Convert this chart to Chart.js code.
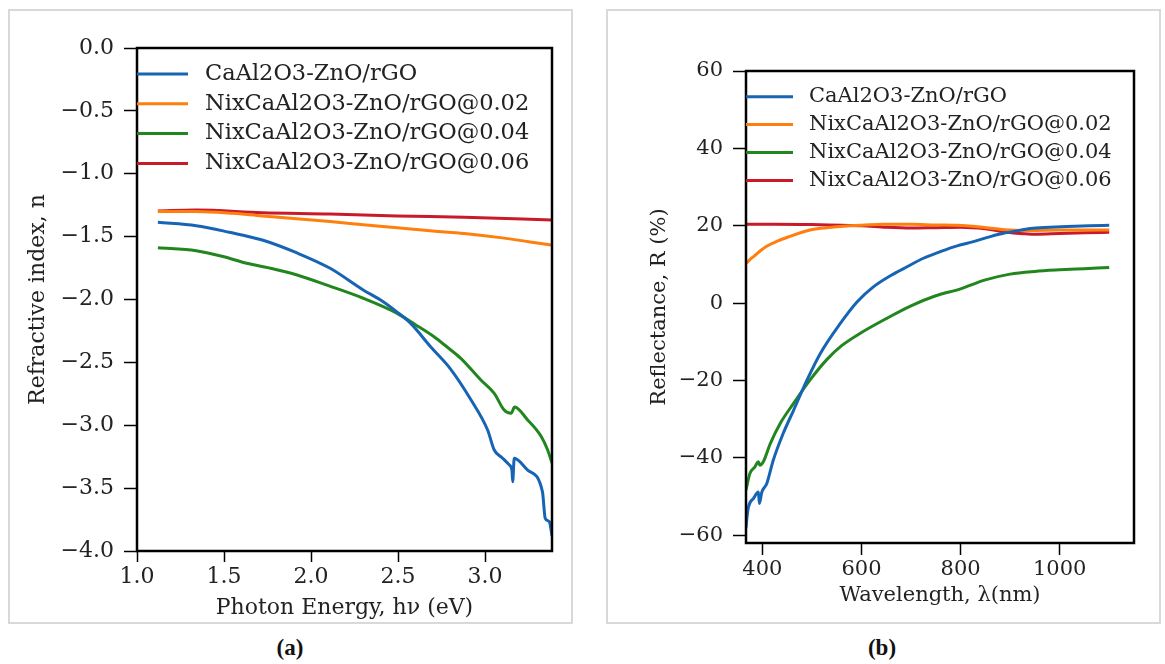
<!DOCTYPE html>
<html>
<head>
<meta charset="utf-8">
<script src="https://cdn.jsdelivr.net/npm/chart.js@4.4.1/dist/chart.umd.min.js"></script>
<style>
    body { margin: 0; background: #fff; width: 1165px; height: 664px; position: relative; overflow: hidden; }
    .panel { position: absolute; top: 9px; height: 615px; box-sizing: border-box; border: 2px solid #d9d9d9; }
    #panel-a { left: 8px; width: 565px; }
    #panel-b { left: 606px; width: 555px; }
    .panel canvas { position: absolute; left: -2px; top: -2px; }
    .caption { position: absolute; top: 636px; font-family: 'Liberation Serif', serif; font-weight: bold; font-size: 23px; line-height: 23px; transform: translateX(-50%); color: #111; }
</style>
</head>
<body>
<div class="panel" id="panel-a"><canvas id="chart-a" width="565" height="615"></canvas></div>
<div class="panel" id="panel-b"><canvas id="chart-b" width="555" height="615"></canvas></div>
<div class="caption" style="left:290px">(a)</div>
<div class="caption" style="left:882px">(b)</div>
<script>
// Series names and colours (same order in both panels)
const seriesLabels = ['CaAl2O3-ZnO/rGO', 'NixCaAl2O3-ZnO/rGO@0.02', 'NixCaAl2O3-ZnO/rGO@0.04', 'NixCaAl2O3-ZnO/rGO@0.06'];
const seriesColors = ['#1764b4', '#ff7f0e', '#22861f', '#c81a28'];

// (a) Refractive index vs photon energy
const energyTicks = [1.0, 1.5, 2.0, 2.5, 3.0];
const indexTicks = [-4.0, -3.5, -3.0, -2.5, -2.0, -1.5, -1.0, -0.5, 0.0];

const pristineE = [1.12, 1.34, 1.53, 1.72, 1.92, 2.11, 2.30, 2.40, 2.495, 2.573, 2.69, 2.80, 2.92, 3.015, 3.053, 3.10, 3.14, 3.155, 3.159, 3.168, 3.245, 3.33, 3.346, 3.37, 3.385];
const pristineN = [-1.386, -1.413, -1.465, -1.527, -1.63, -1.752, -1.924, -2.004, -2.10, -2.19, -2.38, -2.55, -2.80, -3.038, -3.197, -3.26, -3.316, -3.36, -3.449, -3.263, -3.356, -3.528, -3.74, -3.767, -3.88];

const ni02E = [1.12, 1.34, 1.55, 1.72, 1.90, 2.11, 2.30, 2.495, 2.70, 2.88, 3.10, 3.25, 3.385];
const ni02N = [-1.30, -1.30, -1.315, -1.336, -1.355, -1.38, -1.405, -1.43, -1.455, -1.475, -1.51, -1.54, -1.567];

const ni04E = [1.12, 1.34, 1.50, 1.63, 1.78, 1.92, 2.10, 2.30, 2.495, 2.60, 2.707, 2.784, 2.861, 2.976, 3.053, 3.11, 3.15, 3.17, 3.245, 3.323, 3.36, 3.385];
const ni04N = [-1.588, -1.612, -1.66, -1.712, -1.755, -1.805, -1.89, -1.99, -2.11, -2.20, -2.296, -2.38, -2.468, -2.64, -2.746, -2.879, -2.905, -2.855, -2.958, -3.09, -3.197, -3.30];

const ni06E = [1.12, 1.34, 1.72, 2.11, 2.495, 2.88, 3.385];
const ni06N = [-1.296, -1.288, -1.31, -1.32, -1.336, -1.346, -1.368];

// (b) Reflectance vs wavelength
const wavelengthTicks = [400, 600, 800, 1000];
const reflectTicks = [-60, -40, -20, 0, 20, 40, 60];

const pristineWl = [367, 368, 372, 382, 392, 394, 399, 409, 422, 442, 463, 490, 517, 557, 591, 624, 660, 692, 725, 759, 793, 826, 860, 880, 910, 941, 980, 1015, 1060, 1100];
const pristineR = [-58, -56.5, -52.7, -50.5, -48.8, -51.8, -48.8, -46.6, -40.6, -33.7, -27.7, -19.9, -13.0, -5.3, 0.3, 4.2, 7.2, 9.4, 11.6, 13.3, 14.8, 15.9, 17.2, 17.85, 18.6, 19.3, 19.6, 19.8, 20.0, 20.1];

const ni02Wl = [367, 380, 407, 430, 452, 496, 530, 570, 600, 645, 700, 750, 793, 830, 867, 900, 941, 1000, 1050, 1100];
const ni02R = [10.3, 11.8, 14.6, 16.0, 17.1, 18.9, 19.5, 19.95, 20.1, 20.4, 20.4, 20.2, 20.1, 19.8, 19.3, 18.9, 18.8, 18.9, 18.9, 18.9];

const ni04Wl = [367, 375, 385, 392, 395, 402, 416, 436, 463, 496, 530, 560, 600, 650, 700, 750, 800, 850, 900, 950, 1000, 1050, 1100];
const ni04R = [-48.3, -44.0, -42.3, -41.0, -41.9, -41.0, -36.3, -31.1, -25.9, -19.9, -14.6, -11.0, -7.6, -4.0, -0.7, 1.9, 3.7, 6.0, 7.5, 8.2, 8.6, 8.9, 9.2];

const ni06Wl = [367, 420, 500, 560, 600, 650, 700, 750, 800, 850, 880, 920, 950, 1000, 1050, 1100];
const ni06R = [20.4, 20.4, 20.3, 20.1, 20.0, 19.6, 19.4, 19.5, 19.6, 19.2, 18.6, 18.0, 17.8, 18.0, 18.2, 18.3];

const FONT = "'DejaVu Serif'";
const TEXT = '#222';

function zip(xs, ys) {
    return xs.map((x, i) => ({ x: x, y: ys[i] }));
}

function minus(str) {
    return str.replace('-', '\u2212');
}

// Black box round the plot area
const framePlugin = {
    id: 'frame',
    afterDatasetsDraw(chart) {
        const { ctx, chartArea: a } = chart;
        ctx.save();
        ctx.strokeStyle = '#000';
        ctx.lineWidth = 2.5;
        ctx.strokeRect(a.left, a.top, a.right - a.left, a.bottom - a.top);
        ctx.restore();
    }
};

// Legend drawn inside the plot area, top-left, matplotlib style
const insideLegend = {
    id: 'insideLegend',
    afterDraw(chart, args, opts) {
        const { ctx, chartArea: a } = chart;
        ctx.save();
        ctx.font = opts.fontSize + 'px ' + FONT;
        ctx.textBaseline = 'middle';
        chart.data.datasets.forEach((ds, i) => {
            const y = a.top + opts.top + i * opts.gap;
            ctx.strokeStyle = ds.borderColor;
            ctx.lineWidth = 3;
            ctx.beginPath();
            ctx.moveTo(a.left, y);
            ctx.lineTo(a.left + opts.lineLength, y);
            ctx.stroke();
            ctx.fillStyle = TEXT;
            ctx.fillText(ds.label, a.left + opts.textOffset, y);
        });
        ctx.restore();
    }
};

function makeDatasets(pairs) {
    return pairs.map((pts, i) => ({
        label: seriesLabels[i],
        data: pts,
        borderColor: seriesColors[i],
        backgroundColor: seriesColors[i],
        borderWidth: 3,
        pointRadius: 0,
        cubicInterpolationMode: 'monotone',
        fill: false
    }));
}

function axis(p) {
    return {
        type: 'linear',
        min: p.min,
        max: p.max,
        afterBuildTicks: (s) => { s.ticks = p.ticks.map(v => ({ value: v })); },
        afterFit: p.fit,
        ticks: {
            callback: p.format,
            font: { family: FONT, size: p.fontSize },
            color: TEXT,
            padding: p.tickPadding
        },
        grid: {
            drawOnChartArea: false,
            drawTicks: true,
            tickLength: p.tickLength,
            tickColor: '#000',
            tickWidth: 1.5
        },
        border: { display: false },
        title: {
            display: true,
            text: p.title,
            color: TEXT,
            font: { family: FONT, size: p.fontSize },
            padding: p.titlePadding
        }
    };
}

function getConfig(p) {
    return {
        type: 'line',
        data: { datasets: makeDatasets(p.series) },
        options: {
            responsive: false,
            animation: false,
            events: [],
            layout: { padding: p.padding },
            plugins: {
                legend: { display: false },
                tooltip: { enabled: false },
                insideLegend: p.legend
            },
            scales: { x: p.x, y: p.y }
        },
        plugins: [framePlugin, insideLegend]
    };
}

new Chart(document.getElementById('chart-a'), getConfig({
    series: [zip(pristineE, pristineN), zip(ni02E, ni02N), zip(ni04E, ni04N), zip(ni06E, ni06N)],
    padding: { top: 39, right: 21, left: 0, bottom: 0 },
    legend: { top: 26, gap: 29.8, lineLength: 51, textOffset: 68, fontSize: 22.5 },
    x: axis({
        min: 1.0, max: 3.385, ticks: energyTicks, fontSize: 22,
        format: v => v.toFixed(1), tickLength: 11, tickPadding: 2,
        title: 'Photon Energy, h\u03bd (eV)', titlePadding: { top: 0, bottom: 3 },
        fit: (s) => { s.height = 73; }
    }),
    y: axis({
        min: -4, max: 0, ticks: indexTicks, fontSize: 22,
        format: v => minus(v.toFixed(1)), tickLength: 13, tickPadding: 10,
        title: 'Refractive index, n', titlePadding: { top: 17, bottom: 0 },
        fit: (s) => { s.width = 129; }
    })
}));

new Chart(document.getElementById('chart-b'), getConfig({
    series: [zip(pristineWl, pristineR), zip(ni02Wl, ni02R), zip(ni04Wl, ni04R), zip(ni06Wl, ni06R)],
    padding: { top: 62, right: 27, left: 0, bottom: 0 },
    legend: { top: 25.7, gap: 27.9, lineLength: 47, textOffset: 63, fontSize: 21 },
    x: axis({
        min: 367, max: 1150, ticks: wavelengthTicks, fontSize: 21,
        format: v => String(v), tickLength: 12, tickPadding: 2,
        title: 'Wavelength, \u03bb(nm)', titlePadding: { top: 0, bottom: 16 },
        fit: (s) => { s.height = 81; }
    }),
    y: axis({
        min: -62, max: 60, ticks: reflectTicks, fontSize: 21,
        format: v => minus(String(v)), tickLength: 13, tickPadding: 10,
        title: 'Reflectance, R (%)', titlePadding: { top: 41, bottom: 0 },
        fit: (s) => { s.width = 140; }
    })
}));
</script>
</body>
</html>
